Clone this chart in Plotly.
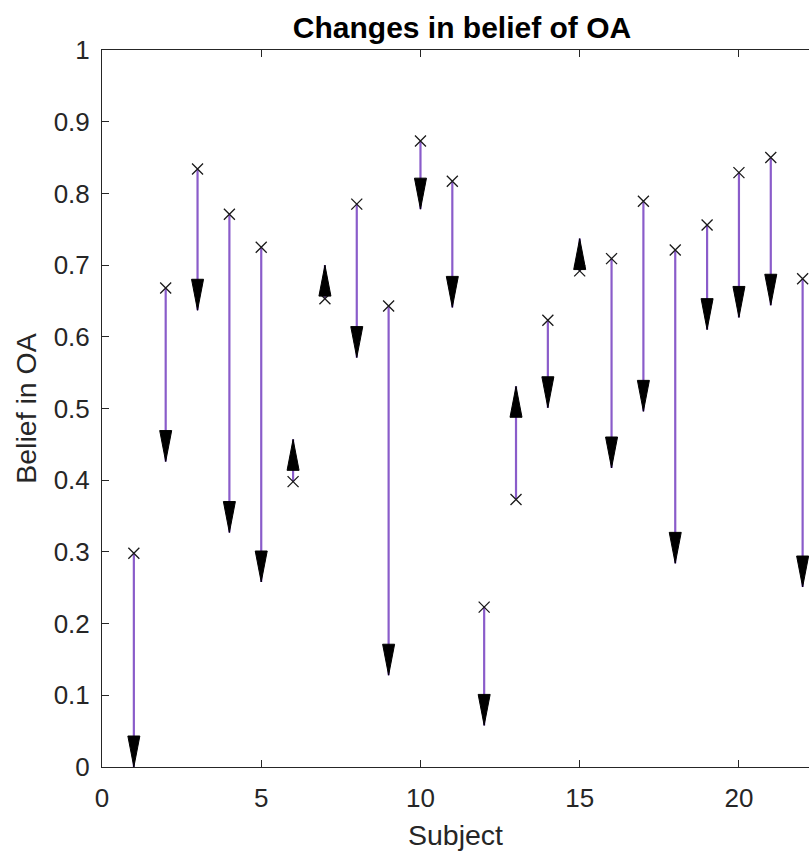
import plotly.graph_objects as go

# Belief in OA for each subject, before and after
subjects = list(range(1, 23))
belief_before = [0.298, 0.668, 0.834, 0.771, 0.725, 0.398, 0.653, 0.785, 0.643, 0.873, 0.817,
                 0.223, 0.373, 0.623, 0.692, 0.709, 0.789, 0.721, 0.756, 0.829, 0.850, 0.681]
belief_after = [0.000, 0.426, 0.637, 0.327, 0.258, 0.457, 0.700, 0.571, 0.128, 0.778, 0.641,
                0.058, 0.531, 0.501, 0.737, 0.417, 0.496, 0.284, 0.610, 0.627, 0.644, 0.251]

x_ticks = [0, 5, 10, 15, 20]
y_ticks = [round(0.1 * i, 1) for i in range(11)]

LINE_COLOR = "#8A5CCA"
AXIS_COLOR = "#262626"
FONT = "Liberation Sans, Arial, sans-serif"

# shafts: one segment per subject
seg_x, seg_y = [], []
for s, b, a in zip(subjects, belief_before, belief_after):
    seg_x += [s, s, None]
    seg_y += [b, a, None]

fig = go.Figure()
fig.add_trace(go.Scatter(x=seg_x, y=seg_y, mode="lines",
                         line=dict(color=LINE_COLOR, width=2.2), hoverinfo="skip",
                         showlegend=False))
fig.add_trace(go.Scatter(x=subjects, y=belief_before, mode="markers",
                         marker=dict(symbol="x-thin", size=11,
                                     line=dict(color="#1a1a1a", width=1.3)),
                         showlegend=False))

# filled arrowheads, tip at the "after" value, size in pixels
HEAD_LEN, HEAD_HALF = 31, 6
for s, b, a in zip(subjects, belief_before, belief_after):
    d = HEAD_LEN if a < b else -HEAD_LEN
    fig.add_shape(type="path", xref="x", yref="y",
                  xsizemode="pixel", ysizemode="pixel",
                  xanchor=s, yanchor=a,
                  path=f"M {-HEAD_HALF} {d} L {HEAD_HALF} {d} L 0 0 Z",
                  fillcolor="black", line=dict(color="black", width=1))

axis_common = dict(showgrid=False, zeroline=False, showline=True, linecolor=AXIS_COLOR,
                   linewidth=1, ticks="inside", ticklen=7, tickcolor=AXIS_COLOR,
                   tickfont=dict(family=FONT, size=26, color=AXIS_COLOR))

fig.update_layout(
    width=809, height=855,
    margin=dict(l=102, r=0, t=50, b=88),
    plot_bgcolor="white", paper_bgcolor="white",
    title=dict(text="<b>Changes in belief of OA</b>", x=462 / 809, xanchor="center",
               xref="container", y=1 - 27 / 855, yanchor="middle", yref="container",
               font=dict(family=FONT, size=30, color="black")),
    xaxis=dict(range=[0, 22.2], tickvals=x_ticks, mirror="ticks",
               title=dict(text="Subject", font=dict(family=FONT, size=28.5, color=AXIS_COLOR),
                          standoff=12),
               ticklabelstandoff=8, **axis_common),
    yaxis=dict(range=[0, 1], tickvals=y_ticks, ticktext=[f"{v:g}" for v in y_ticks],
               mirror=False,
               title=dict(text="Belief in OA", font=dict(family=FONT, size=28.5, color=AXIS_COLOR),
                          standoff=8),
               ticklabelstandoff=6, **axis_common),
)

fig.write_html("out.html")
